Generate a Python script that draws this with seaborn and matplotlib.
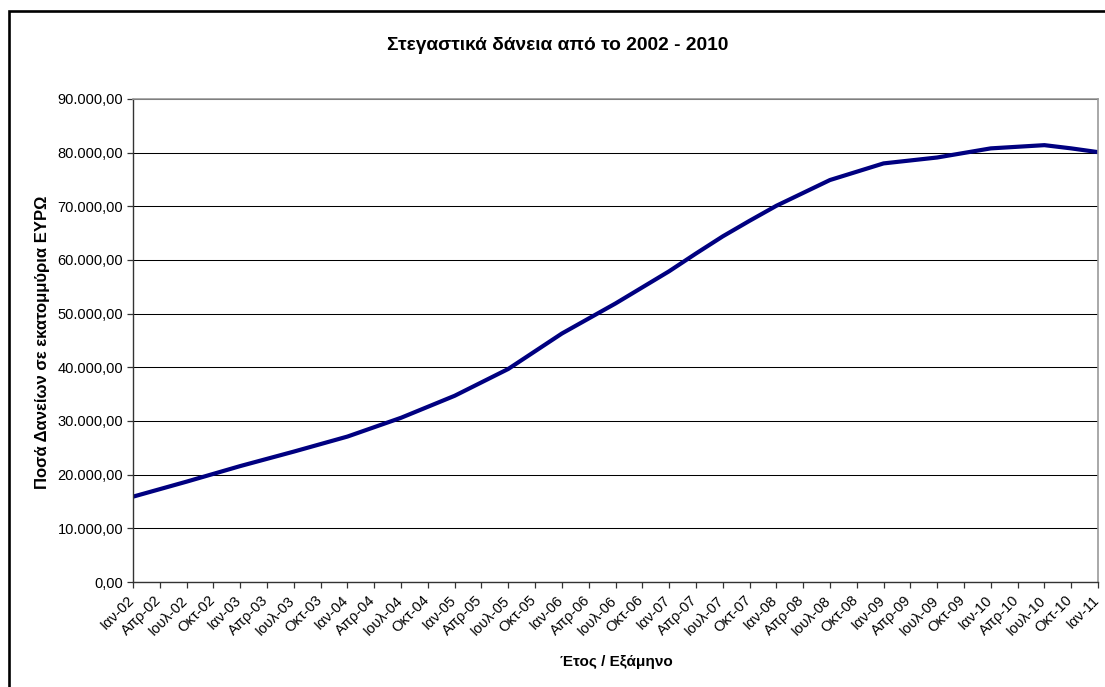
import numpy as np
import pandas as pd
import matplotlib
matplotlib.use("Agg")
import matplotlib.pyplot as plt
from matplotlib.ticker import FuncFormatter, MultipleLocator
from matplotlib.patches import Rectangle
from matplotlib.transforms import ScaledTranslation
import seaborn as sns

# Quarterly labels (Greek month abbreviations, two-digit year)
quarters = ["Ιαν", "Απρ", "Ιουλ", "Οκτ"]
years = ["02", "03", "04", "05", "06", "07", "08", "09", "10"]
period_labels = [f"{q}-{y}" for y in years for q in quarters] + ["Ιαν-11"]

# Outstanding housing loans, millions of euro
loan_balance = [
    15900, 17300, 18700, 20150,
    21600, 22950, 24300, 25700,
    27100, 28850, 30600, 32650,
    34700, 37200, 39700, 43000,
    46300, 49100, 51900, 54900,
    57900, 61200, 64400, 67300,
    70100, 72500, 74900, 76450,
    78000, 78550, 79100, 79950,
    80800, 81100, 81400, 80800,
    80100,
]

title_text = "Στεγαστικά δάνεια από το 2002 - 2010"
xlabel_text = "Έτος / Εξάμηνο"
ylabel_text = "Ποσά Δανείων σε εκατομμύρια ΕΥΡΩ"

df = pd.DataFrame({
    "pos": np.arange(len(period_labels)),
    "period": period_labels,
    "balance": loan_balance,
})

sns.set_style("ticks")
plt.rcParams["font.family"] = ["Liberation Sans", "DejaVu Sans"]
plt.rcParams["text.color"] = "black"
plt.rcParams["axes.labelcolor"] = "black"
plt.rcParams["xtick.color"] = "black"
plt.rcParams["ytick.color"] = "black"

fig = plt.figure(figsize=(11.05, 6.87), dpi=100)
ax = fig.add_axes([133 / 1105, 1 - 582 / 687, (1098 - 133) / 1105, (582 - 99) / 687])

sns.lineplot(data=df, x="pos", y="balance", ax=ax, color="#000080",
             linewidth=3.0, solid_joinstyle="miter", solid_capstyle="butt")

ax.set_xlim(0, len(period_labels) - 1)
ax.set_ylim(0, 90000)
ax.yaxis.set_major_locator(MultipleLocator(10000))


def greek_number(v, _pos):
    s = f"{v:,.2f}"
    return s.replace(",", "X").replace(".", ",").replace("X", ".")


ax.yaxis.set_major_formatter(FuncFormatter(greek_number))
ax.set_xticks(df["pos"])
ax.set_xticklabels(period_labels, rotation=45, ha="right", rotation_mode="anchor")

ax.grid(axis="y", color="black", linewidth=0.75)
ax.set_axisbelow(True)

for side in ["left", "bottom"]:
    ax.spines[side].set_color("#333333")
    ax.spines[side].set_linewidth(1.0)
for side in ["top", "right"]:
    ax.spines[side].set_visible(True)
    ax.spines[side].set_color("#999999")
    ax.spines[side].set_linewidth(1.2)

ax.tick_params(axis="both", direction="out", length=4, width=0.9,
               color="#333333", labelsize=10.5, labelcolor="black", pad=3)
ax.tick_params(axis="x", pad=4)

# nudge the slanted category labels a little to the left of their ticks
shift = ScaledTranslation(-6 / 100, 0, fig.dpi_scale_trans)
for tick in ax.xaxis.get_major_ticks():
    tick.label1.set_transform(tick.label1.get_transform() + shift)

ax.set_xlabel(xlabel_text, fontsize=11, fontweight="bold")
ax.xaxis.label.set_va("center")
ax.xaxis.set_label_coords((616 - 133) / 965, (582 - 662) / 483)

ax.set_ylabel(ylabel_text, fontsize=12, fontweight="bold")
ax.yaxis.label.set_va("center")
ax.yaxis.set_label_coords((43 - 133) / 965, (582 - 342) / 483)

fig.text(558 / 1105, 1 - 45 / 687, title_text, ha="center", va="center",
         fontsize=13.8, fontweight="bold")

# Outer frame of the chart
fig.patches.append(Rectangle((8.7 / 1105, -0.1), 1.2, 1 - 11.2 / 687 + 0.1,
                             transform=fig.transFigure, fill=False,
                             edgecolor="black", linewidth=1.9))

fig.savefig("out.png", dpi=100, facecolor="white")
